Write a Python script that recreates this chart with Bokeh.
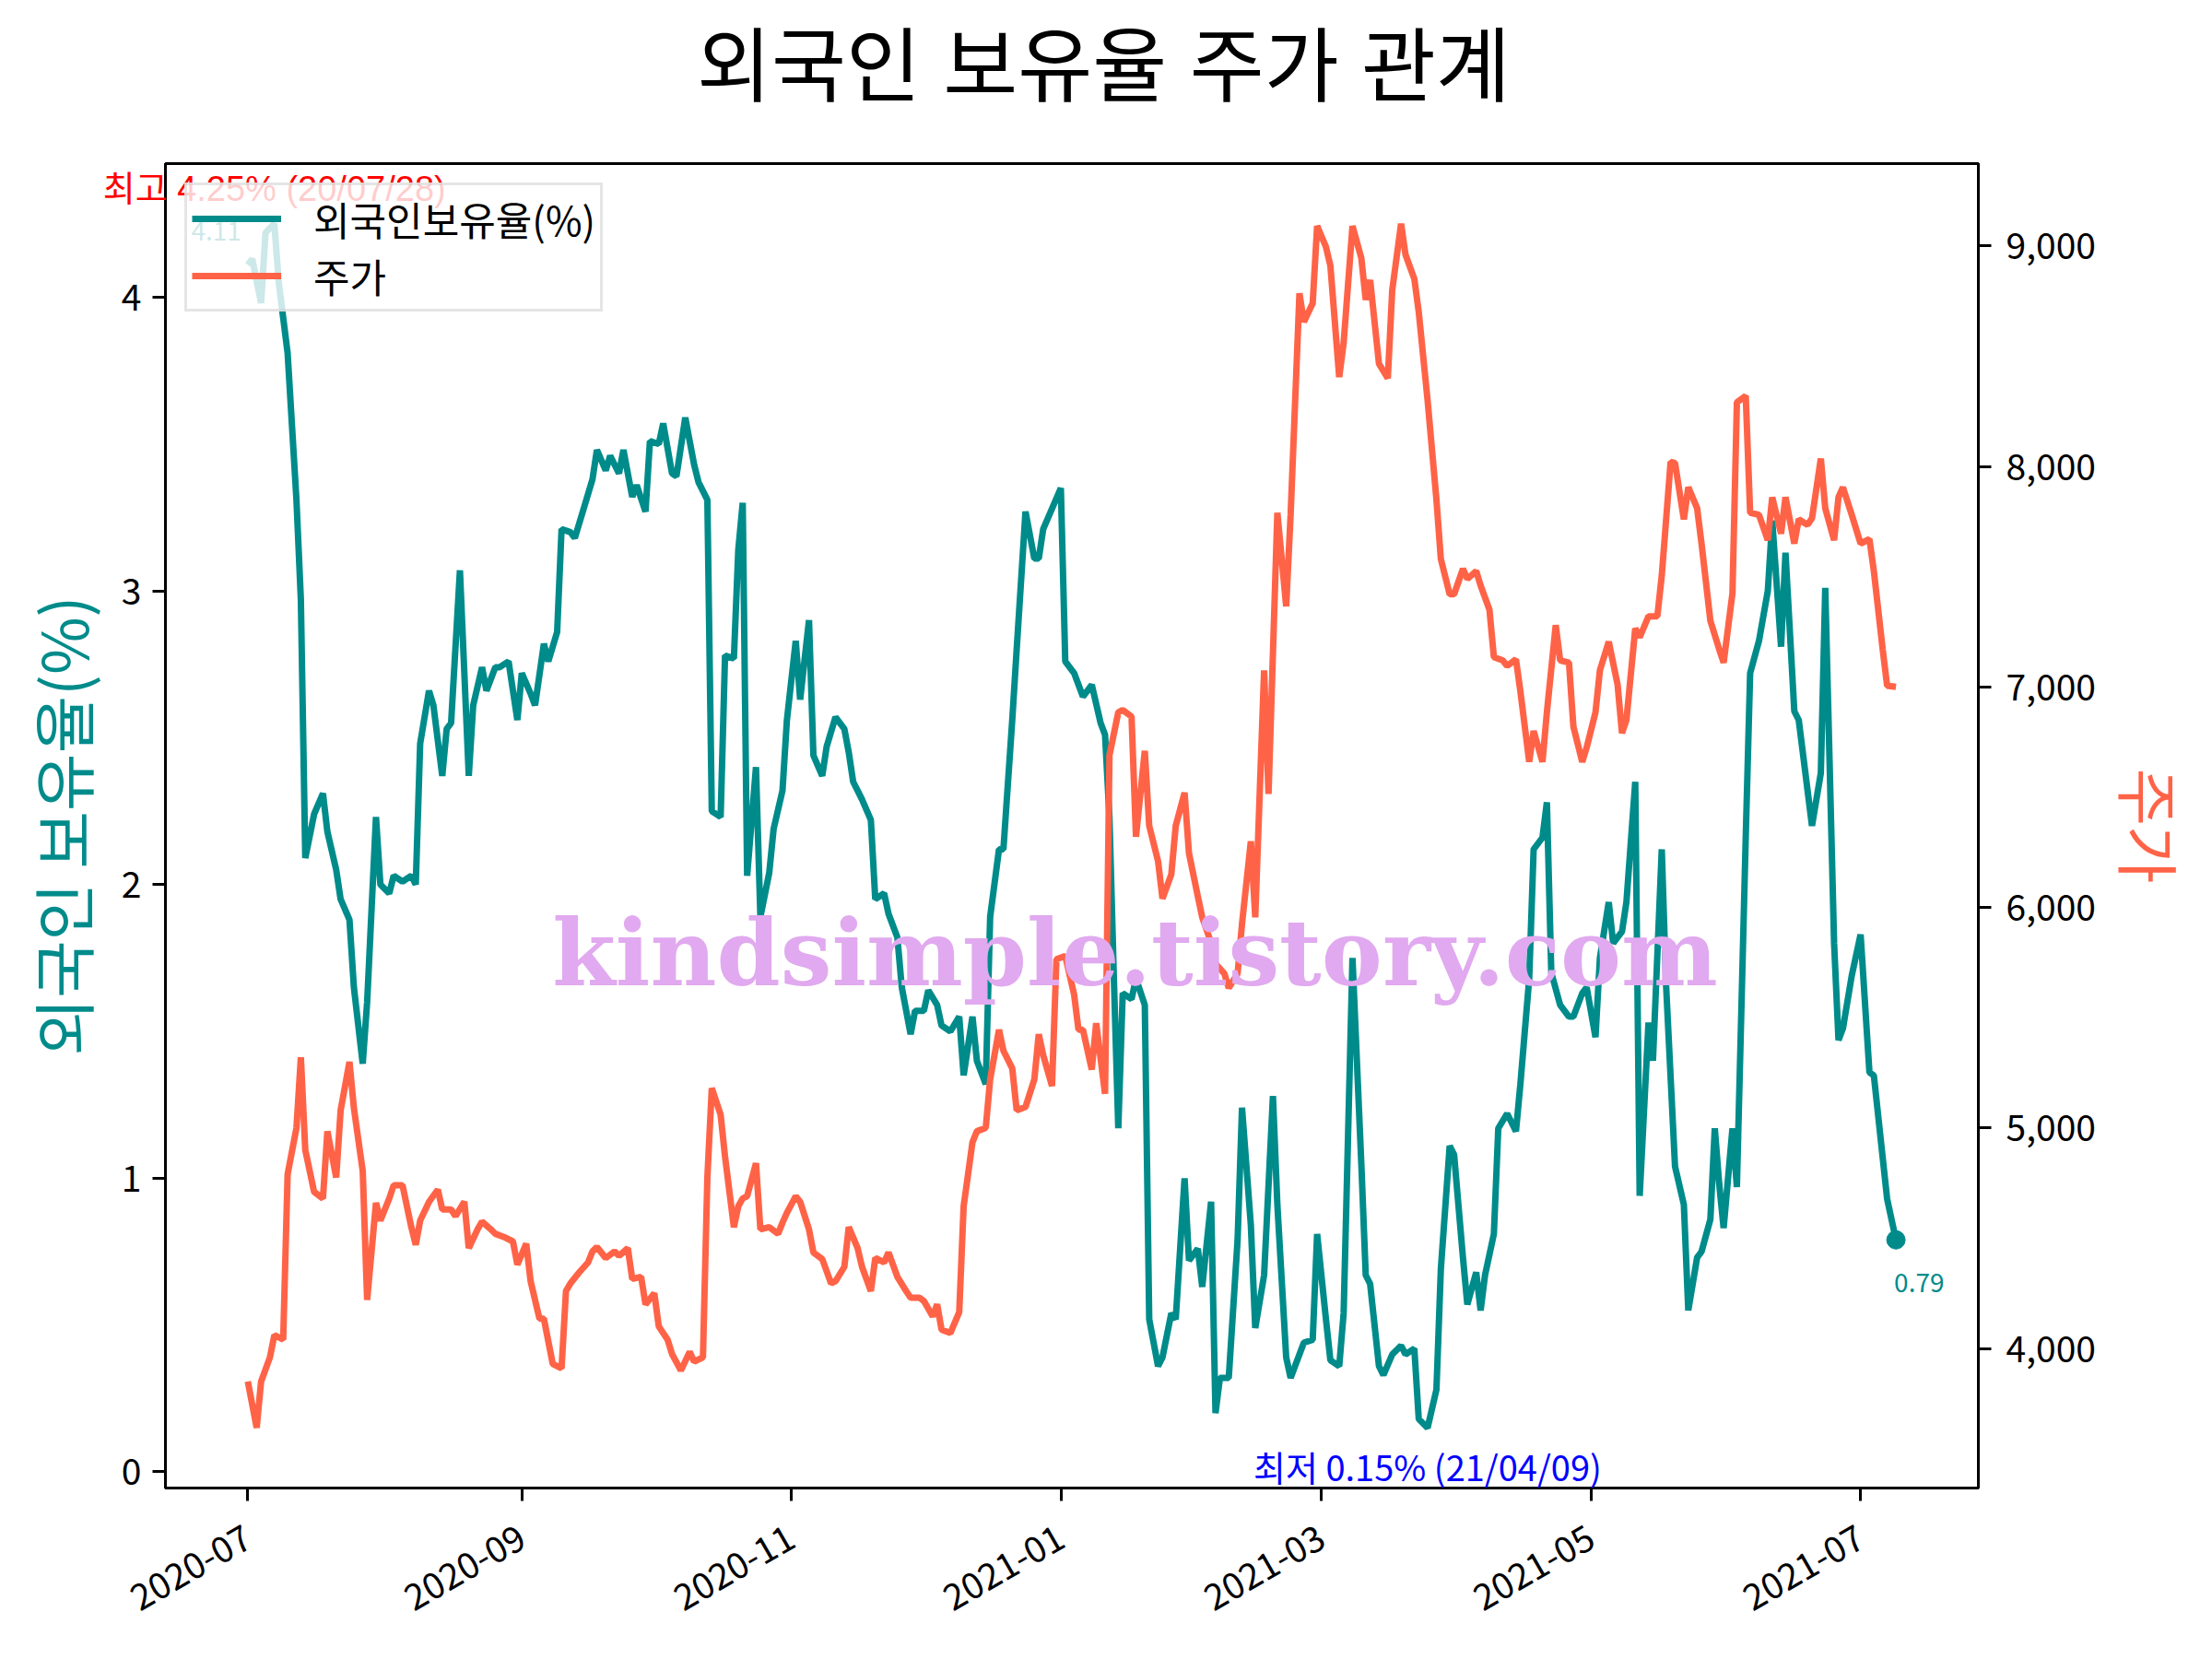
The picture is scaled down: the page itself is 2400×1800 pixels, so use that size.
import math
import numpy as np
import pandas as pd
from bokeh.plotting import figure
from bokeh.models import (Range1d, LinearAxis, SingleIntervalTicker, FixedTicker,
                          DatetimeTickFormatter, NumeralTickFormatter, Label,
                          Legend, LegendItem)
from bokeh.embed import file_html
from bokeh.resources import INLINE

# ---------------- data ----------------
start_date = "2020-07-01"

# foreign ownership ratio (%) : days since start_date, value
teal_days = [
    0, 1, 3, 4, 6, 7, 9, 11, 12, 13,
    15, 17, 18, 20, 21, 23, 24, 26, 27, 29,
    30, 32, 33, 35, 37, 38, 39, 41, 42, 44,
    45, 46, 48, 50, 51, 53, 54, 56, 57, 59,
    61, 62, 64, 65, 67, 68, 70, 71, 73, 74,
    76, 78, 79, 81, 82, 84, 85, 87, 88, 90,
    91, 93, 94, 96, 97, 99, 101, 102, 104, 105,
    107, 108, 110, 111, 112, 113, 115, 116, 118, 119,
    121, 122, 124, 125, 127, 128, 130, 131, 133, 135,
    136, 137, 139, 141, 142, 144, 145, 147, 148, 150,
    151, 153, 154, 156, 157, 159, 161, 162, 164, 165,
    167, 168, 170, 171, 173, 174, 176, 178, 179, 180,
    182, 184, 185, 187, 188, 189, 191, 193, 194, 195,
    196, 197, 198, 200, 201, 203, 204, 206, 207, 209,
    210, 212, 213, 215, 216, 218, 219, 220, 222, 224,
    225, 227, 228, 230, 232, 233, 235, 236, 238, 239,
    241, 242, 244, 245, 247, 248, 250, 252, 253, 254,
    256, 257, 259, 261, 262, 264, 265, 267, 269, 270,
    272, 273, 275, 276, 278, 279, 280, 282, 283, 285,
    287, 288, 290, 291, 293, 294, 295, 297, 299, 300,
    302, 303, 305, 306, 308, 309, 311, 312, 314, 315,
    317, 318, 320, 321, 323, 325, 326, 328, 329, 331,
    332, 333, 334, 336, 337, 339, 340, 342, 344, 345,
    347, 348, 350, 351, 353, 354, 356, 357, 359, 360,
    361, 363, 365, 367, 368, 370, 371, 373,
]
teal_vals = [
    4.11, 4.13, 3.98, 4.22, 4.25, 4.05, 3.81, 3.31, 2.97, 2.09,
    2.24, 2.31, 2.18, 2.05, 1.95, 1.88, 1.65, 1.39, 1.60, 2.23,
    2.00, 1.97, 2.03, 2.01, 2.03, 2.00, 2.48, 2.66, 2.61, 2.37,
    2.53, 2.55, 3.07, 2.37, 2.61, 2.74, 2.66, 2.74, 2.74, 2.76,
    2.56, 2.72, 2.65, 2.61, 2.82, 2.76, 2.86, 3.21, 3.20, 3.18,
    3.28, 3.38, 3.48, 3.41, 3.46, 3.40, 3.48, 3.32, 3.36, 3.27,
    3.51, 3.50, 3.57, 3.40, 3.39, 3.59, 3.43, 3.37, 3.31, 2.25,
    2.23, 2.78, 2.77, 3.14, 3.30, 2.03, 2.40, 1.89, 2.04, 2.19,
    2.32, 2.56, 2.83, 2.63, 2.90, 2.44, 2.37, 2.47, 2.57, 2.53,
    2.45, 2.35, 2.29, 2.22, 1.95, 1.97, 1.90, 1.82, 1.65, 1.49,
    1.57, 1.57, 1.64, 1.59, 1.52, 1.50, 1.55, 1.35, 1.55, 1.40,
    1.32, 1.89, 2.12, 2.12, 2.56, 2.80, 3.27, 3.11, 3.11, 3.21,
    3.28, 3.35, 2.76, 2.72, 2.68, 2.64, 2.68, 2.55, 2.51, 2.23,
    1.68, 1.17, 1.63, 1.61, 1.68, 1.59, 0.52, 0.36, 0.39, 0.54,
    0.52, 1.00, 0.72, 0.76, 0.63, 0.92, 0.20, 0.32, 0.32, 0.79,
    1.24, 0.84, 0.49, 0.67, 1.28, 0.91, 0.39, 0.32, 0.40, 0.44,
    0.45, 0.81, 0.52, 0.38, 0.36, 0.54, 1.75, 1.05, 0.67, 0.64,
    0.36, 0.33, 0.40, 0.43, 0.40, 0.42, 0.18, 0.15, 0.28, 0.69,
    1.11, 1.08, 0.73, 0.57, 0.68, 0.55, 0.67, 0.81, 1.17, 1.22,
    1.16, 1.32, 1.68, 2.12, 2.16, 2.28, 1.70, 1.59, 1.55, 1.55,
    1.63, 1.65, 1.48, 1.75, 1.94, 1.80, 1.84, 1.94, 2.35, 0.94,
    1.53, 1.40, 2.12, 1.65, 1.04, 0.91, 0.55, 0.73, 0.75, 0.86,
    1.17, 0.98, 0.83, 1.17, 0.97, 2.16, 2.72, 2.83, 3.00, 3.24,
    2.81, 3.13, 2.59, 2.56, 2.32, 2.20, 2.38, 3.01, 1.80, 1.47,
    1.51, 1.69, 1.83, 1.36, 1.35, 1.07, 0.93, 0.79,
]

# share price : days since start_date, value
price_days = [
    0, 2, 3, 5, 6, 8, 9, 11, 12, 13,
    15, 17, 18, 20, 21, 23, 24, 26, 27, 29,
    30, 32, 33, 35, 37, 38, 39, 41, 43, 44,
    46, 47, 49, 50, 52, 53, 55, 56, 58, 60,
    61, 63, 64, 66, 67, 69, 71, 72, 73, 75,
    77, 78, 79, 81, 83, 84, 86, 87, 89, 90,
    92, 93, 95, 96, 98, 100, 101, 103, 104, 105,
    107, 108, 110, 111, 112, 113, 115, 116, 118, 120,
    121, 122, 124, 125, 127, 128, 130, 132, 133, 135,
    136, 138, 139, 141, 142, 144, 145, 147, 149, 150,
    152, 153, 155, 156, 157, 159, 161, 162, 164, 165,
    167, 168, 170, 171, 173, 174, 176, 178, 179, 180,
    182, 183, 185, 187, 188, 189, 191, 192, 194, 195,
    197, 198, 200, 201, 203, 204, 206, 207, 209, 210,
    212, 213, 215, 216, 218, 219, 221, 222, 224, 225,
    227, 228, 230, 231, 233, 235, 236, 238, 239, 241,
    242, 244, 245, 247, 248, 250, 252, 253, 254, 256,
    258, 259, 261, 262, 264, 265, 267, 269, 270, 272,
    273, 275, 276, 278, 279, 281, 282, 284, 285, 287,
    288, 290, 291, 293, 294, 296, 297, 299, 300, 302,
    303, 305, 306, 308, 310, 311, 312, 314, 315, 317,
    319, 320, 322, 323, 325, 326, 328, 329, 331, 332,
    333, 334, 336, 337, 339, 340, 342, 344, 345, 347,
    348, 350, 351, 353, 354, 356, 357, 359, 360, 361,
    363, 365, 367, 368, 370, 371, 373,
]
price_vals = [
    3850, 3640, 3850, 3960, 4060, 4040, 4790, 5000, 5320, 4900,
    4710, 4680, 4985, 4775, 5080, 5300, 5090, 4805, 4220, 4660,
    4580, 4680, 4740, 4740, 4550, 4470, 4580, 4665, 4720, 4630,
    4630, 4600, 4665, 4455, 4540, 4575, 4540, 4520, 4505, 4485,
    4380, 4475, 4305, 4135, 4135, 3930, 3910, 4260, 4295, 4345,
    4390, 4440, 4460, 4410, 4440, 4420, 4455, 4315, 4325, 4200,
    4250, 4100, 4040, 3975, 3900, 3985, 3940, 3960, 4775, 5180,
    5060, 4870, 4550, 4645, 4680, 4690, 4840, 4540, 4550, 4520,
    4570, 4615, 4690, 4665, 4540, 4435, 4405, 4295, 4305, 4370,
    4550, 4455, 4370, 4260, 4410, 4390, 4435, 4325, 4260, 4230,
    4230, 4215, 4145, 4200, 4085, 4070, 4165, 4645, 4935, 4985,
    5000, 5220, 5445, 5350, 5270, 5080, 5095, 5220, 5425, 5330,
    5190, 5765, 5780, 5605, 5445, 5445, 5265, 5475, 5155, 6690,
    6885, 6895, 6865, 6320, 6710, 6370, 6210, 6040, 6150, 6370,
    6520, 6245, 6050, 5955, 5840, 5745, 5700, 5635, 5700, 5925,
    6300, 5955, 7075, 6515, 7790, 7365, 7780, 8785, 8655, 8740,
    9090, 8995, 8910, 8405, 8560, 9090, 8945, 8755, 8845, 8465,
    8400, 8800, 9100, 8960, 8850, 8700, 8300, 7850, 7580, 7420,
    7420, 7535, 7490, 7525, 7460, 7350, 7135, 7120, 7095, 7125,
    6980, 6660, 6800, 6660, 6885, 7280, 7120, 7110, 6820, 6660,
    6725, 6885, 7075, 7205, 7010, 6790, 6850, 7265, 7225, 7320,
    7320, 7505, 8020, 8015, 7760, 7905, 7810, 7650, 7300, 7235,
    7170, 7110, 7425, 8290, 8320, 7790, 7780, 7665, 7860, 7695,
    7860, 7650, 7760, 7735, 7765, 8035, 7810, 7665, 7860, 7905,
    7780, 7650, 7670, 7525, 7170, 7005, 7000,
]

tick_months = ["2020-07-01", "2020-09-01", "2020-11-01", "2021-01-01",
               "2021-03-01", "2021-05-01", "2021-07-01"]

title_text = "외국인 보유율 주가 관계"
left_label = "외국인 보유율(%)"
right_label = "주가"
legend_labels = ["외국인보유율(%)", "주가"]
max_text = "최고 4.25% (20/07/28)"
min_text = "최저 0.15% (21/04/09)"
watermark_text = "kindsimple.tistory.com"

# ---------------- style ----------------
TEAL = "#008B8B"
TOMATO = "#FF6347"
FONT = "Noto Sans CJK KR"
# compact-metric font stack for texts in the top panel (Hangul falls back to Noto)
TOP_FONT = "'Liberation Sans', 'Noto Sans CJK KR'"
LW = 7

EPOCH = pd.Timestamp("1970-01-01")


def ms(ts):
    return (pd.Timestamp(ts) - EPOCH).total_seconds() * 1000.0


start = pd.Timestamp(start_date)
teal_x = [start + pd.Timedelta(days=d) for d in teal_days]
price_x = [start + pd.Timedelta(days=d) for d in price_days]

# ranges with 5% margins (matplotlib style)
tx = np.array([ms(t) for t in teal_x])
xpad = 0.05 * (tx.max() - tx.min())
xr0, xr1 = tx.min() - xpad, tx.max() + xpad
tv = np.array(teal_vals)
ypad = 0.05 * (tv.max() - tv.min())
yr0, yr1 = tv.min() - ypad, tv.max() + ypad
pv = np.array(price_vals)
ppad = 0.05 * (pv.max() - pv.min())
pr0, pr1 = pv.min() - ppad, pv.max() + ppad

# frame geometry (canvas pixels)
FL, FT, FW, FH = 179, 177, 1967, 1437


def px_to_x(px):
    return xr0 + (px - FL) / FW * (xr1 - xr0)


def px_to_y(py):
    return yr1 - (py - FT) / FH * (yr1 - yr0)


PX_PER_Y = FH / (yr1 - yr0)

# baseline correction of the text renderer (measured): baseline = anchor + k*size
BK = 0.37

p = figure(x_axis_type="datetime", frame_width=FW, frame_height=FH,
           x_range=Range1d(xr0, xr1), y_range=Range1d(yr0, yr1),
           output_backend="svg", toolbar_location=None,
           min_border_left=FL, min_border_top=FT,
           min_border_right=230, min_border_bottom=178,
           background_fill_color="white", border_fill_color="white")
p.grid.visible = False
p.outline_line_color = "black"
p.outline_line_width = 3

p.extra_y_ranges = {"price": Range1d(pr0, pr1)}
right_axis = LinearAxis(y_range_name="price", axis_label=right_label,
                        ticker=SingleIntervalTicker(interval=1000, num_minor_ticks=0),
                        formatter=NumeralTickFormatter(format="0,0"))
p.add_layout(right_axis, "right")

p.xaxis[0].ticker = FixedTicker(ticks=[ms(t) for t in tick_months])
fmt = "%Y-%m"
p.xaxis[0].formatter = DatetimeTickFormatter(
    microseconds=fmt, milliseconds=fmt, seconds=fmt, minsec=fmt, minutes=fmt,
    hourmin=fmt, hours=fmt, days=fmt, months=fmt, years=fmt)
p.xaxis[0].major_label_orientation = math.pi / 6

left_axis = p.yaxis[0]
left_axis.ticker = SingleIntervalTicker(interval=1, num_minor_ticks=0)
left_axis.axis_label = left_label

for ax in [p.xaxis[0], left_axis, right_axis]:
    ax.axis_line_width = 3
    ax.axis_line_color = "black"
    ax.major_tick_line_width = 3
    ax.major_tick_line_color = "black"
    ax.major_tick_out = 14
    ax.major_tick_in = 0
    ax.minor_tick_out = 0
    ax.minor_tick_in = 0
    ax.major_label_text_font = FONT
    ax.major_label_text_font_size = "39px"
    ax.major_label_text_color = "black"
    ax.major_label_standoff = 12
    ax.axis_label_text_font = FONT
    ax.axis_label_text_font_size = "68px"
    ax.axis_label_text_font_style = "normal"

p.xaxis[0].major_label_standoff = 36
left_axis.axis_label_text_color = TEAL
left_axis.axis_label_standoff = 13
right_axis.axis_label_text_color = TOMATO
right_axis.axis_label_standoff = 7
right_axis.major_label_standoff = 16

# ---------------- glyphs ----------------
teal_r = p.line(teal_x, teal_vals, line_color=TEAL, line_width=LW)
price_r = p.line(price_x, price_vals, line_color=TOMATO, line_width=LW,
                 y_range_name="price")
p.scatter([teal_x[-1]], [teal_vals[-1]], size=20, color=TEAL)

imax = int(np.argmax(tv))
imin = int(np.argmin(tv))

# title and max label go to the top panel so they are not clipped to the frame
p.add_layout(Label(x=px_to_x(1197), y=px_to_y(72), text=title_text,
                   text_align="center", text_baseline="alphabetic",
                   text_color="black", text_font=TOP_FONT, text_font_size="88px"),
             "above")
p.add_layout(Label(x=ms(teal_x[imax]),
                   y=teal_vals[imax] + (24 + BK * 38) / PX_PER_Y,
                   text=max_text, text_align="center", text_baseline="alphabetic",
                   text_color="red", text_font=TOP_FONT,
                   text_font_size="38px"), "above")

p.add_layout(Label(x=ms(teal_x[0]), y=teal_vals[0], text=f"{teal_vals[0]:.2f}",
                   text_align="right", text_baseline="alphabetic",
                   x_offset=-7, y_offset=27 + BK * 28, text_color=TEAL,
                   text_font=FONT, text_font_size="28px"))
p.add_layout(Label(x=ms(teal_x[imin]), y=teal_vals[imin], text=min_text,
                   text_align="center", text_baseline="alphabetic",
                   y_offset=-55 + BK * 38, text_color="blue", text_font=FONT,
                   text_font_size="38px"))
p.add_layout(Label(x=ms(teal_x[-1]), y=teal_vals[-1], text=f"{teal_vals[-1]:.2f}",
                   text_align="left", text_baseline="alphabetic",
                   x_offset=-2, y_offset=-57 + BK * 28, text_color=TEAL,
                   text_font=FONT, text_font_size="28px"))

# watermark
p.add_layout(Label(x=px_to_x(1231), y=px_to_y(1070 - BK * 99), text=watermark_text,
                   text_align="center", text_baseline="alphabetic",
                   text_color="#E1A9EF", text_font="DejaVu Serif",
                   text_font_style="bold", text_font_size="99px"))

legend = Legend(items=[LegendItem(label=legend_labels[0], renderers=[teal_r]),
                       LegendItem(label=legend_labels[1], renderers=[price_r])],
                location="top_left", margin=21, padding=5, spacing=0,
                glyph_width=97, glyph_height=46, label_height=46,
                label_standoff=35, label_text_font=FONT,
                label_text_font_size="43px", label_text_color="black",
                border_line_color="#cccccc", border_line_width=3,
                background_fill_color="white", background_fill_alpha=0.8)
p.add_layout(legend)

open("out.html", "w").write(file_html(p, INLINE))
